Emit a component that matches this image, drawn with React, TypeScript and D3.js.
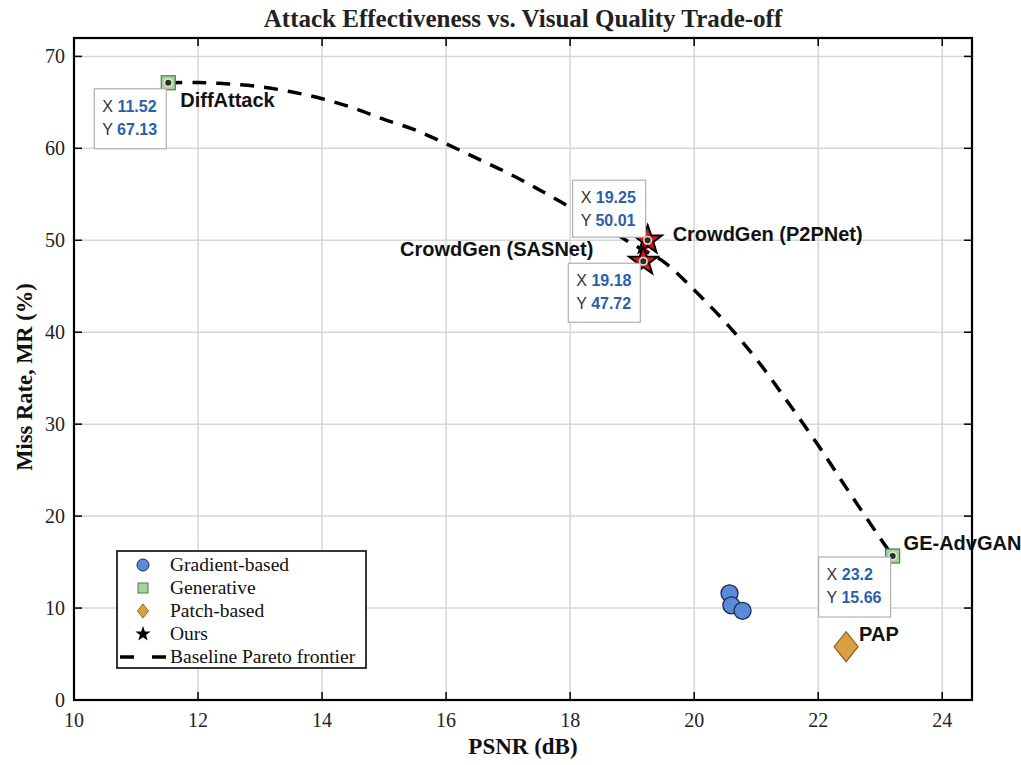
import React from 'react';
import * as d3 from 'd3';

// data
const gradientPts = [
  [20.57, 11.6],
  [20.6, 10.3],
  [20.78, 9.7],
];
const generativePts = [
  { name: 'DiffAttack', x: 11.52, y: 67.13 },
  { name: 'GE-AdvGAN', x: 23.2, y: 15.66 },
];
const patchPts = [{ name: 'PAP', x: 22.45, y: 5.8 }];
const oursPts = [
  { name: 'CrowdGen (P2PNet)', x: 19.25, y: 50.01 },
  { name: 'CrowdGen (SASNet)', x: 19.18, y: 47.72 },
];
const frontier = [
  [11.52, 67.13], [12, 67.15], [12.5, 67.0], [13, 66.7], [13.5, 66.15],
  [14, 65.4], [14.5, 64.4], [15, 63.15], [15.5, 62.0], [16, 60.5],
  [16.5, 58.9], [17, 57.3], [17.5, 55.5], [18, 53.6], [18.5, 51.7],
  [19, 49.6], [19.5, 47.7], [20, 44.6], [20.5, 41.1], [21, 37.1],
  [21.5, 32.5], [22, 27.7], [22.5, 22.6], [23, 17.6], [23.2, 15.66],
];
const xTicks = [10, 12, 14, 16, 18, 20, 22, 24];
const yTicks = [0, 10, 20, 30, 40, 50, 60, 70];

const serif = '"Liberation Serif", "Times New Roman", serif';
const sans = '"Liberation Sans", Arial, sans-serif';

const W = 1021;
const H = 765;
const M = { left: 74, right: 972, top: 38, bottom: 700 };

const x = d3.scaleLinear().domain([10, 24.48]).range([M.left, M.right]);
const y = d3.scaleLinear().domain([0, 72]).range([M.bottom, M.top]);

const starPath = (r: number, ri: number) => {
  const pts = d3.range(10).map((i) => {
    const a = -Math.PI / 2 + (i * Math.PI) / 5;
    const rr = i % 2 === 0 ? r : ri;
    return [rr * Math.cos(a), rr * Math.sin(a)];
  });
  return 'M' + pts.map((p) => p.join(',')).join('L') + 'Z';
};

// data tip boxes (offsets in px relative to the point)
const tips = [
  { x: 11.52, y: 67.13, dx: -74, dy: 6, w: 72, h: 60 },
  { x: 19.25, y: 50.01, dx: -75, dy: -60, w: 73, h: 57 },
  { x: 19.18, y: 47.72, dx: -75, dy: 2, w: 72, h: 59 },
  { x: 23.2, y: 15.66, dx: -74, dy: 1, w: 72, h: 60 },
];

const labels = [
  { text: 'DiffAttack', x: 11.52, y: 67.13, dx: 12, dy: 24, anchor: 'start' },
  { text: 'CrowdGen (P2PNet)', x: 19.25, y: 50.01, dx: 25, dy: 1, anchor: 'start' },
  { text: 'CrowdGen (SASNet)', x: 19.18, y: 47.72, dx: -50, dy: -5, anchor: 'end' },
  { text: 'GE-AdvGAN', x: 23.2, y: 15.66, dx: 11, dy: -6, anchor: 'start' },
  { text: 'PAP', x: 22.45, y: 5.8, dx: 13, dy: -6, anchor: 'start' },
];

export default function App() {
  const line = d3
    .line<number[]>()
    .x((d) => x(d[0]))
    .y((d) => y(d[1]))
    .curve(d3.curveCatmullRom);

  const legendItems = ['Gradient-based', 'Generative', 'Patch-based', 'Ours', 'Baseline Pareto frontier'];

  return (
    <svg width={W} height={H} style={{ position: 'absolute', left: 0, top: 0 }}>
      <rect width={W} height={H} fill="#fff" />
      {/* grid */}
      {xTicks.map((t) => (
        <line key={'gx' + t} x1={x(t)} x2={x(t)} y1={M.top} y2={M.bottom} stroke="#d6d6d6" strokeWidth={1.5} />
      ))}
      {yTicks.map((t) => (
        <line key={'gy' + t} x1={M.left} x2={M.right} y1={y(t)} y2={y(t)} stroke="#d6d6d6" strokeWidth={1.5} />
      ))}

      {/* ticks */}
      {xTicks.map((t) => (
        <g key={'tx' + t}>
          <line x1={x(t)} x2={x(t)} y1={M.bottom} y2={M.bottom - 8} stroke="#000" strokeWidth={1.5} />
          <line x1={x(t)} x2={x(t)} y1={M.top} y2={M.top + 8} stroke="#000" strokeWidth={1.5} />
          <text x={x(t)} y={M.bottom + 27} textAnchor="middle" fontFamily={serif} fontSize={20} fill="#222">
            {t}
          </text>
        </g>
      ))}
      {yTicks.map((t) => (
        <g key={'ty' + t}>
          <line x1={M.left} x2={M.left + 8} y1={y(t)} y2={y(t)} stroke="#000" strokeWidth={1.5} />
          <line x1={M.right} x2={M.right - 8} y1={y(t)} y2={y(t)} stroke="#000" strokeWidth={1.5} />
          <text x={M.left - 9} y={y(t) + 7} textAnchor="end" fontFamily={serif} fontSize={20} fill="#222">
            {t}
          </text>
        </g>
      ))}

      {/* frontier */}
      <path d={line(frontier) || ''} fill="none" stroke="#000" strokeWidth={3.5} strokeDasharray="14,10" />

      {/* gradient circles */}
      {gradientPts.map((p, i) => (
        <circle key={'c' + i} cx={x(p[0])} cy={y(p[1])} r={8.5} fill="#5b8ad8" stroke="#1c2a4a" strokeWidth={1.3} />
      ))}

      {/* patch diamond */}
      {patchPts.map((p) => (
        <path
          key={p.name}
          transform={`translate(${x(p.x)},${y(p.y)})`}
          d="M0,-15L12,0L0,15L-12,0Z"
          fill="#d9a043"
          stroke="#8a6424"
          strokeWidth={1.2}
        />
      ))}

      {/* generative squares */}
      {generativePts.map((p) => (
        <rect
          key={p.name}
          x={x(p.x) - 7}
          y={y(p.y) - 7}
          width={14}
          height={14}
          fill="#a3d49c"
          stroke="#4e7a4e"
          strokeWidth={1.2}
        />
      ))}

      {/* ours stars */}
      <line
        x1={x(oursPts[0].x)}
        y1={y(oursPts[0].y)}
        x2={x(oursPts[1].x)}
        y2={y(oursPts[1].y)}
        stroke="#e01010"
        strokeWidth={3}
      />
      {oursPts.map((p) => (
        <path
          key={p.name}
          transform={`translate(${x(p.x)},${y(p.y)})`}
          d={starPath(15, 6)}
          fill="#e01414"
          stroke="#000"
          strokeWidth={2}
        />
      ))}

      {/* data tip dots */}
      {[...generativePts, ...oursPts].map((p) => (
        <circle key={'d' + p.name} cx={x(p.x)} cy={y(p.y)} r={3.8} fill="#2b2b2b" stroke="#e8e8d8" strokeWidth={1.5} />
      ))}

      {/* data tips */}
      {tips.map((t, i) => {
        const bx = x(t.x) + t.dx;
        const by = y(t.y) + t.dy;
        return (
          <g key={'tip' + i} fontFamily={sans} fontSize={16}>
            <rect x={bx} y={by} width={t.w} height={t.h} fill="#fff" stroke="#b0b0b0" strokeWidth={1.2} />
            <text x={bx + 8} y={by + 23} fill="#333">
              X <tspan fill="#2a5fae" fontWeight="bold">{t.x}</tspan>
            </text>
            <text x={bx + 8} y={by + 46} fill="#333">
              Y <tspan fill="#2a5fae" fontWeight="bold">{t.y.toFixed(2)}</tspan>
            </text>
          </g>
        );
      })}

      {/* labels */}
      {labels.map((l) => (
        <text
          key={l.text}
          x={x(l.x) + l.dx}
          y={y(l.y) + l.dy}
          textAnchor={l.anchor as any}
          fontFamily={sans}
          fontWeight="bold"
          fontSize={20}
          fill="#111"
        >
          {l.text}
        </text>
      ))}

      {/* axes box */}
      <rect x={M.left} y={M.top} width={M.right - M.left} height={M.bottom - M.top} fill="none" stroke="#000" strokeWidth={2.2} />

      {/* legend */}
      <g>
        <rect x={117} y={551} width={249} height={117} fill="#fff" stroke="#222" strokeWidth={1.8} />
        {legendItems.map((name, i) => {
          const cy = 565 + i * 23;
          return (
            <g key={name}>
              {i === 0 && <circle cx={143} cy={cy} r={6} fill="#5b8ad8" stroke="#1c2a4a" strokeWidth={1} />}
              {i === 1 && <rect x={138} y={cy - 5} width={10} height={10} fill="#a3d49c" stroke="#4e7a4e" strokeWidth={1} />}
              {i === 2 && <path transform={`translate(143,${cy})`} d="M0,-7L5.5,0L0,7L-5.5,0Z" fill="#d9a043" stroke="#8a6424" strokeWidth={1} />}
              {i === 3 && <path transform={`translate(143,${cy})`} d={starPath(8, 3.2)} fill="#000" />}
              {i === 4 && <line x1={120} x2={166} y1={cy} y2={cy} stroke="#000" strokeWidth={3.5} strokeDasharray="14,18" />}
              <text x={170} y={cy + 6} fontFamily={serif} fontSize={19.5} fill="#111">
                {name}
              </text>
            </g>
          );
        })}
      </g>

      {/* titles */}
      <text x={(M.left + M.right) / 2} y={27} textAnchor="middle" fontFamily={serif} fontWeight="bold" fontSize={25} fill="#222">
        Attack Effectiveness vs. Visual Quality Trade-off
      </text>
      <text x={(M.left + M.right) / 2} y={754} textAnchor="middle" fontFamily={serif} fontWeight="bold" fontSize={23} fill="#111">
        PSNR (dB)
      </text>
      <text
        transform={`translate(32,${(M.top + M.bottom) / 2 + 8}) rotate(-90)`}
        textAnchor="middle"
        fontFamily={serif}
        fontWeight="bold"
        fontSize={22.5}
        fill="#111"
      >
        Miss Rate, MR (%)
      </text>
    </svg>
  );
}
